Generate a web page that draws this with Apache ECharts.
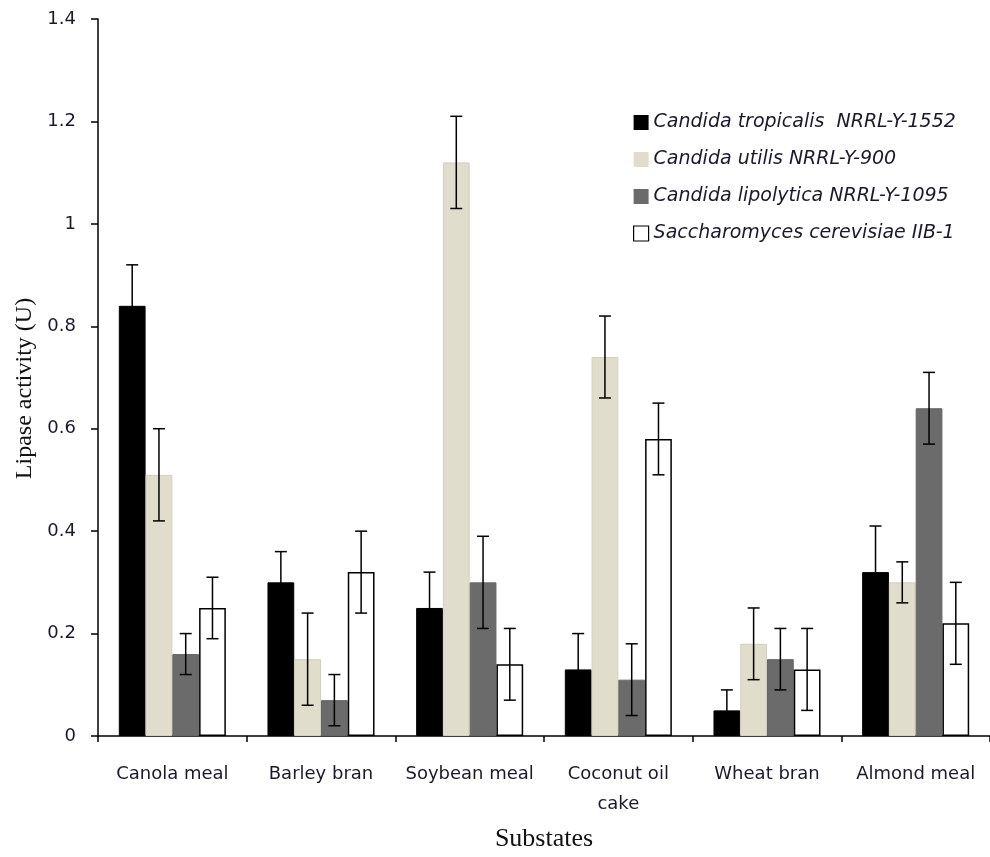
<!DOCTYPE html>
<html>
<head>
<meta charset="utf-8">
<script src="https://cdn.jsdelivr.net/npm/echarts@6/dist/echarts.min.js"></script>
<style>
html,body{margin:0;padding:0;background:#fff;}
#chart{width:990px;height:857px;}
</style>
</head>
<body>
<div id="chart"></div>
<script>
// Substrates on the x axis
const categories = ['Canola meal', 'Barley bran', 'Soybean meal', 'Coconut oil\ncake', 'Wheat bran', 'Almond meal'];

// Strain names (legend)
const strains = [
  'Candida tropicalis  NRRL-Y-1552',
  'Candida utilis NRRL-Y-900',
  'Candida lipolytica NRRL-Y-1095',
  'Saccharomyces cerevisiae IIB-1'
];

// Mean lipase activity (U) per substrate
const tropicalis = [0.84, 0.30, 0.25, 0.13, 0.05, 0.32];
const utilis     = [0.51, 0.15, 1.12, 0.74, 0.18, 0.30];
const lipolytica = [0.16, 0.07, 0.30, 0.11, 0.15, 0.64];
const cerevisiae = [0.25, 0.32, 0.14, 0.58, 0.13, 0.22];

// Error half-widths (U)
const tropicalisErr = [0.08, 0.06, 0.07, 0.07, 0.04, 0.09];
const utilisErr     = [0.09, 0.09, 0.09, 0.08, 0.07, 0.04];
const lipolyticaErr = [0.04, 0.05, 0.09, 0.07, 0.06, 0.07];
const cerevisiaeErr = [0.06, 0.08, 0.07, 0.07, 0.08, 0.08];

// Y axis ticks
const yMin = 0, yMax = 1.4, yStep = 0.2;

const means = [tropicalis, utilis, lipolytica, cerevisiae];
const errs = [tropicalisErr, utilisErr, lipolyticaErr, cerevisiaeErr];
const fills = ['#000000', '#e0ddcc', '#6b6b6b', '#ffffff'];
const borders = ['#000000', '#d2cfbd', '#666666', '#000000'];

const CAT_GAP = 0.28;
const nSeries = means.length;

const series = means.map((vals, i) => ({
  name: strains[i],
  type: 'bar',
  data: vals,
  barGap: '0%',
  barCategoryGap: (CAT_GAP * 100) + '%',
  itemStyle: { color: fills[i], borderColor: borders[i], borderWidth: i === 3 ? 1.5 : 1 },
  emphasis: { disabled: true },
  z: 2
}));

// Error bars drawn at each bar's centre
means.forEach((vals, i) => {
  const data = vals.map((v, k) => [k, v - errs[i][k], v + errs[i][k]]);
  series.push({
    type: 'custom',
    name: 'err' + i,
    z: 5,
    silent: true,
    data: data,
    renderItem: function (params, api) {
      const k = api.value(0);
      const lo = api.coord([k, api.value(1)]);
      const hi = api.coord([k, api.value(2)]);
      const band = api.size([1, 0])[0];
      const barW = band * (1 - CAT_GAP) / nSeries;
      const x = lo[0] + (i - (nSeries - 1) / 2) * barW;
      const cap = 6;
      const style = { stroke: '#000', lineWidth: 1.5, fill: null };
      return {
        type: 'group',
        children: [
          { type: 'line', shape: { x1: x, y1: lo[1], x2: x, y2: hi[1] }, style: style },
          { type: 'line', shape: { x1: x - cap, y1: hi[1], x2: x + cap, y2: hi[1] }, style: style },
          { type: 'line', shape: { x1: x - cap, y1: lo[1], x2: x + cap, y2: lo[1] }, style: style }
        ]
      };
    }
  });
});

const chart = echarts.init(document.getElementById('chart'), null, { renderer: 'canvas' });
chart.setOption({
  animation: false,
  backgroundColor: '#ffffff',
  grid: { left: 98, top: 19, right: -6, bottom: 117, containLabel: false },
  legend: {
    orient: 'vertical',
    left: 628,
    top: 108,
    itemGap: 18,
    itemWidth: 15,
    itemHeight: 15,
    icon: 'rect',
    data: strains.map((s, i) => ({
      name: s,
      itemStyle: { color: fills[i], borderColor: i === 3 ? '#000' : fills[i], borderWidth: i === 3 ? 1.2 : 0 }
    })),
    textStyle: {
      fontFamily: 'DejaVu Sans',
      fontStyle: 'italic',
      fontSize: 19,
      color: '#1a1a2a'
    }
  },
  xAxis: {
    type: 'category',
    data: categories,
    name: 'Substates',
    nameLocation: 'middle',
    nameGap: 90,
    nameTextStyle: { fontFamily: 'Liberation Serif', fontSize: 26, color: '#111' },
    axisLine: { lineStyle: { color: '#000', width: 1.5 } },
    axisTick: { show: true, alignWithLabel: false, length: 6, lineStyle: { color: '#000', width: 1.5 } },
    axisLabel: {
      interval: 0,
      margin: 23,
      fontFamily: 'DejaVu Sans',
      fontSize: 18,
      lineHeight: 30,
      color: '#1a1a2a'
    }
  },
  yAxis: {
    type: 'value',
    min: yMin,
    max: yMax,
    interval: yStep,
    name: 'Lipase activity (U)',
    nameLocation: 'middle',
    nameRotate: 90,
    nameGap: 61,
    nameTextStyle: { fontFamily: 'Liberation Serif', fontSize: 24, color: '#111', padding: [0, 22, 0, 0] },
    splitLine: { show: false },
    axisLine: { show: true, lineStyle: { color: '#000', width: 1.5 } },
    axisTick: { show: true, length: 7, lineStyle: { color: '#000', width: 1.5 } },
    axisLabel: {
      margin: 22,
      fontFamily: 'DejaVu Sans',
      fontSize: 18,
      color: '#1a1a2a',
      formatter: v => String(Math.round(v * 10) / 10)
    }
  },
  series: series
});
</script>
</body>
</html>
